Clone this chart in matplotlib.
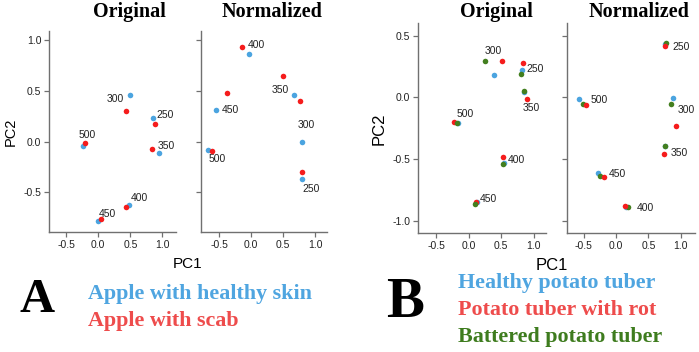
import matplotlib
matplotlib.use("Agg")
import matplotlib.pyplot as plt

plt.rcParams['font.family'] = ['Liberation Sans', 'DejaVu Sans']

# wavelengths used as point labels
waves = [250, 300, 350, 400, 450, 500]

# ---- panel A : apple ----
a_orig_healthy_x = [0.85, 0.49, 0.95, 0.48, -0.01, -0.23]
a_orig_healthy_y = [0.23, 0.46, -0.115, -0.62, -0.78, -0.04]
a_orig_scab_x = [0.89, 0.43, 0.84, 0.44, 0.05, -0.20]
a_orig_scab_y = [0.17, 0.30, -0.07, -0.645, -0.76, -0.017]

a_norm_healthy_x = [0.80, 0.79, 0.67, -0.04, -0.55, -0.67]
a_norm_healthy_y = [-0.37, -0.007, 0.46, 0.865, 0.306, -0.08]
a_norm_scab_x = [0.80, 0.77, 0.50, -0.14, -0.375, -0.615]
a_norm_scab_y = [-0.30, 0.40, 0.645, 0.93, 0.48, -0.09]

# ---- panel B : potato ----
b_orig_healthy_x = [0.825, 0.39, 0.855, 0.535, 0.12, -0.165]
b_orig_healthy_y = [0.225, 0.18, 0.045, -0.53, -0.846, -0.21]
b_orig_rot_x = [0.84, 0.505, 0.89, 0.53, 0.11, -0.23]
b_orig_rot_y = [0.28, 0.295, -0.013, -0.48, -0.846, -0.197]
b_orig_bat_x = [0.80, 0.25, 0.85, 0.53, 0.09, -0.19]
b_orig_bat_y = [0.19, 0.295, 0.05, -0.535, -0.862, -0.205]

b_norm_healthy_x = [0.76, 0.88, 0.75, 0.16, -0.28, -0.57]
b_norm_healthy_y = [0.43, -0.008, -0.39, -0.885, -0.61, -0.014]
b_norm_rot_x = [0.75, 0.92, 0.74, 0.144, -0.18, -0.46]
b_norm_rot_y = [0.42, -0.23, -0.454, -0.88, -0.643, -0.062]
b_norm_bat_x = [0.78, 0.845, 0.75, 0.18, -0.24, -0.51]
b_norm_bat_y = [0.44, -0.057, -0.39, -0.89, -0.638, -0.05]

BLUE = '#4ba4e0'
RED = '#f51c1c'
GREEN = '#437f1f'
LBLUE = '#4fa5e0'
LRED = '#ee4c4c'
LGREEN = '#3e7c1e'

W, H = 699, 352
fig = plt.figure(figsize=(W / 100, H / 100), dpi=100)


def px_axes(left, right, top, bottom):
    return fig.add_axes([left / W, 1 - bottom / H, (right - left) / W, (bottom - top) / H])


def style(ax, xlim, ylim, yticks, show_ylabels):
    ax.set_xlim(*xlim)
    ax.set_ylim(*ylim)
    ax.set_xticks([-0.5, 0.0, 0.5, 1.0])
    ax.set_xticklabels(['-0.5', '0.0', '0.5', '1.0'])
    ax.set_yticks(yticks)
    if show_ylabels:
        ax.set_yticklabels([f'{v:.1f}' for v in yticks])
    else:
        ax.set_yticklabels([])
    for s in ['top', 'right']:
        ax.spines[s].set_visible(False)
    for s in ['left', 'bottom']:
        ax.spines[s].set_color('#707070')
        ax.spines[s].set_linewidth(1.0)
    ax.tick_params(length=3.5, width=0.9, color='#707070', labelsize=7.5,
                   labelcolor='#222222', pad=2)
    ax.patch.set_alpha(0)


def labels(ax, xs, ys, offsets):
    # offsets in pixels (dx right, dy up) from the anchor point
    for w, x, y, (dx, dy) in zip(waves, xs, ys, offsets):
        ax.annotate(str(w), (x, y), xytext=(dx * 0.72, dy * 0.72),
                    textcoords='offset points', ha='center', va='center',
                    fontsize=7.5, color='#222222')


S = 16

# A original
ax = px_axes(49, 176, 30.7, 232)
style(ax, (-0.765, 1.21), (-0.89, 1.09), [-0.5, 0.0, 0.5, 1.0], True)
ax.scatter(a_orig_healthy_x, a_orig_healthy_y, s=S, color=BLUE, lw=0, zorder=3)
ax.scatter(a_orig_scab_x, a_orig_scab_y, s=S, color=RED, lw=0, zorder=4)
labels(ax, a_orig_scab_x, a_orig_scab_y,
       [(10, 9.3), (-11, 12.3), (13.6, 2.4), (13, 9), (6, 4.4), (2, 8)])
ax.set_ylabel('PC2', fontsize=10.5, labelpad=4)

# A normalized
ax = px_axes(200.7, 327.3, 30.7, 232)
style(ax, (-0.79, 1.19), (-0.89, 1.09), [-0.5, 0.0, 0.5, 1.0], False)
ax.scatter(a_norm_healthy_x, a_norm_healthy_y, s=S, color=BLUE, lw=0, zorder=3)
ax.scatter(a_norm_scab_x, a_norm_scab_y, s=S, color=RED, lw=0, zorder=4)
labels(ax, a_norm_scab_x, a_norm_scab_y,
       [(8.7, -16.7), (6, -24), (-3.3, -14), (13.7, 2), (2.7, -17.7), (5.3, -8.3)])

# B original
ax = px_axes(417.7, 546, 23.3, 233.3)
style(ax, (-0.79, 1.19), (-1.1, 0.6), [-1.0, -0.5, 0.0, 0.5], True)
ax.scatter(b_orig_healthy_x, b_orig_healthy_y, s=S, color=BLUE, lw=0, zorder=3)
ax.scatter(b_orig_rot_x, b_orig_rot_y, s=S, color=RED, lw=0, zorder=4)
ax.scatter(b_orig_bat_x, b_orig_bat_y, s=S, color=GREEN, lw=0, zorder=5)
labels(ax, b_orig_rot_x, b_orig_rot_y,
       [(11.7, -5.7), (-8.3, 9.7), (4.3, -8.7), (12.7, -3.3), (12.7, 3.3), (11.7, 8)])
ax.set_ylabel('PC2', fontsize=12, labelpad=4)

# B normalized
ax = px_axes(566.7, 695, 23.3, 233.3)
style(ax, (-0.76, 1.22), (-1.1, 0.6), [-1.0, -0.5, 0.0, 0.5], False)
ax.scatter(b_norm_healthy_x, b_norm_healthy_y, s=S, color=BLUE, lw=0, zorder=3)
ax.scatter(b_norm_bat_x, b_norm_bat_y, s=S, color=GREEN, lw=0, zorder=4)
ax.scatter(b_norm_rot_x, b_norm_rot_y, s=S, color=RED, lw=0, zorder=5)
labels(ax, b_norm_rot_x, b_norm_rot_y,
       [(17, -1), (10.3, 15.7), (15.3, 0), (19.7, -2), (13.3, 2.7), (13.3, 5)])

# titles
serif = ['Liberation Serif', 'DejaVu Serif']
for x, y, t in [(129, 17.3, 'Original'), (272, 17.3, 'Normalized'),
                (496, 16.7, 'Original'), (639, 16.7, 'Normalized')]:
    fig.text(x / W, 1 - y / H, t, ha='center', va='baseline', fontsize=14.5,
             fontweight='bold', family=serif)

# PC1 labels
fig.text(188 / W, 1 - 264 / H, 'PC1', ha='center', va='center', fontsize=11)
fig.text(552 / W, 1 - 265 / H, 'PC1', ha='center', va='center', fontsize=12)

# panel letters
fig.text(37 / W, 1 - 300 / H, 'A', ha='center', va='center', fontsize=35,
         fontweight='bold', family=serif)
fig.text(405 / W, 1 - 303 / H, 'B', ha='center', va='center', fontsize=41,
         fontweight='bold', family=serif)

# group names
fig.text(88 / W, 1 - 299 / H, 'Apple with healthy skin', ha='left', va='baseline',
         fontsize=15.8, fontweight='bold', family=serif, color=LBLUE)
fig.text(88 / W, 1 - 326 / H, 'Apple with scab', ha='left', va='baseline',
         fontsize=15.8, fontweight='bold', family=serif, color=LRED)
fig.text(458 / W, 1 - 288 / H, 'Healthy potato tuber', ha='left', va='baseline',
         fontsize=15.8, fontweight='bold', family=serif, color=LBLUE)
fig.text(458 / W, 1 - 315 / H, 'Potato tuber with rot', ha='left', va='baseline',
         fontsize=15.8, fontweight='bold', family=serif, color=LRED)
fig.text(458 / W, 1 - 341.7 / H, 'Battered potato tuber', ha='left', va='baseline',
         fontsize=15.8, fontweight='bold', family=serif, color=LGREEN)

fig.savefig('out.png', dpi=100)
